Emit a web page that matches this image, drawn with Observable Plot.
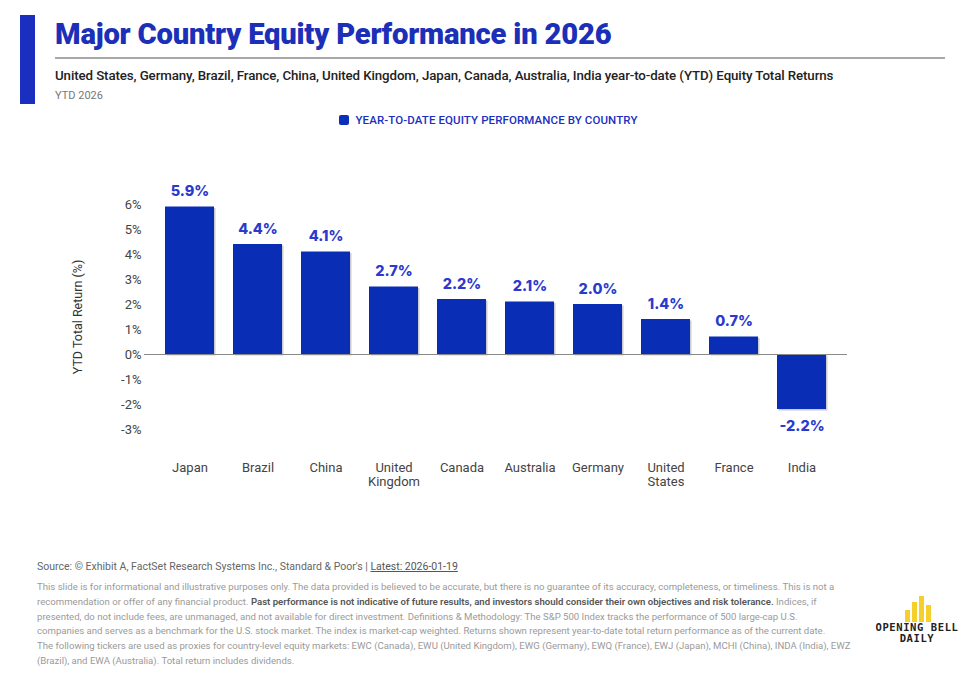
<!DOCTYPE html>
<html><head><meta charset="utf-8">
<script src="https://cdn.jsdelivr.net/npm/d3@7"></script>
<script src="https://cdn.jsdelivr.net/npm/@observablehq/plot@0.6"></script>
<style>
body{margin:0;background:#fff;font-family:Roboto,"Noto Sans",sans-serif;}
#page{position:relative;width:977px;height:689px;overflow:hidden;}
.abs{position:absolute;}
#accent{left:20px;top:15px;width:15px;height:89px;background:#1a2fbf;}
#title{left:55px;top:15px;font-size:29.2px;font-weight:900;color:#1b2fb8;letter-spacing:-0.2px;line-height:38px;white-space:nowrap;}
#rule{left:55px;top:57px;width:890px;height:1.5px;background:#a8a8a8;}
#subtitle{left:55px;top:68px;font-size:13.3px;font-weight:500;color:#222;white-space:nowrap;letter-spacing:-0.1px;}
#ytd{left:55px;top:89px;font-size:11px;color:#777;}
#legend{left:0;width:977px;top:113px;text-align:center;font-size:11.5px;font-weight:500;color:#1b2fc0;letter-spacing:0.1px;}
#legend .sw{display:inline-block;width:10px;height:10px;border-radius:2px;background:#0a2fb8;vertical-align:-1px;margin-right:6px;}
#chart{left:0;top:140px;}
#source{left:37px;top:560px;font-size:10.5px;color:#666;white-space:nowrap;}
#source u{color:#555;}
#disc{left:37px;top:580px;font-size:9.6px;line-height:14.8px;color:#9a9a9a;white-space:nowrap;}
#disc b{color:#555;font-weight:600;}
#logoText{left:862px;top:622px;width:110px;text-align:center;font-family:"DejaVu Sans Mono",monospace;font-weight:bold;font-size:10.5px;line-height:10.5px;color:#222;letter-spacing:0.6px;}
</style></head>
<body><div id="page">
<div id="accent" class="abs"></div>
<div id="title" class="abs">Major Country Equity Performance in 2026</div>
<div id="rule" class="abs"></div>
<div id="subtitle" class="abs">United States, Germany, Brazil, France, China, United Kingdom, Japan, Canada, Australia, India year-to-date (YTD) Equity Total Returns</div>
<div id="ytd" class="abs">YTD 2026</div>
<div id="legend" class="abs"><span class="sw"></span>YEAR-TO-DATE EQUITY PERFORMANCE BY COUNTRY</div>
<div id="chart" class="abs"></div>
<div id="source" class="abs">Source: © Exhibit A, FactSet Research Systems Inc., Standard &amp; Poor's | <u>Latest: 2026-01-19</u></div>
<div id="disc" class="abs">This slide is for informational and illustrative purposes only. The data provided is believed to be accurate, but there is no guarantee of its accuracy, completeness, or timeliness. This is not a<br>recommendation or offer of any financial product. <b>Past performance is not indicative of future results, and investors should consider their own objectives and risk tolerance.</b> Indices, if<br>presented, do not include fees, are unmanaged, and not available for direct investment. Definitions &amp; Methodology: The S&amp;P 500 Index tracks the performance of 500 large-cap U.S.<br>companies and serves as a benchmark for the U.S. stock market. The index is market-cap weighted. Returns shown represent year-to-date total return performance as of the current date.<br>The following tickers are used as proxies for country-level equity markets: EWC (Canada), EWU (United Kingdom), EWG (Germany), EWQ (France), EWJ (Japan), MCHI (China), INDA (India), EWZ<br>(Brazil), and EWA (Australia). Total return includes dividends.</div>
<svg class="abs" style="left:903px;top:595px" width="30" height="27">
  <rect x="2" y="15" width="5" height="12" fill="#f5cf2a"/>
  <rect x="9" y="7" width="5" height="20" fill="#f5cf2a"/>
  <rect x="16" y="1" width="5" height="26" fill="#f5cf2a"/>
  <rect x="23" y="10" width="5" height="17" fill="#f5cf2a"/>
</svg>
<div id="logoText" class="abs">OPENING BELL<br>DAILY</div>
</div>
<script>
const countries = ["Japan","Brazil","China","United Kingdom","Canada","Australia","Germany","United States","France","India"];
const returns = [5.9,4.4,4.1,2.7,2.2,2.1,2.0,1.4,0.7,-2.2];
const yTicks = [-3,-2,-1,0,1,2,3,4,5,6];
const yLabel = ["YTD Total Return (%)"];

const data = countries.map((c,i)=>({country:c, value:returns[i]}));
const pos = data.filter(d => d.value >= 0);
const neg = data.filter(d => d.value < 0);
const barColor = "#0a2db5";
const labelColor = "#2b3acd";
const fmt = d => d.value.toFixed(1) + "%";

const chart = Plot.plot({
  width: 977,
  height: 360,
  marginLeft: 144,
  marginRight: 130,
  marginTop: 64,
  marginBottom: 71,
  style: {fontFamily: "Roboto, 'Noto Sans', sans-serif", background: "transparent"},
  x: {domain: countries, padding: 0.28},
  y: {domain: [-3, 6]},
  marks: [
    Plot.barY(data, {x: "country", y: "value", fill: "#9a9a9a", fillOpacity: 0.5, dx: 1.5, dy: 1.5}),
    Plot.barY(data, {x: "country", y: "value", fill: barColor}),
    Plot.ruleY([0], {stroke: "#8a8a8a", strokeWidth: 1}),
    Plot.text(pos, {x: "country", y: "value", text: fmt, textAnchor: "middle",
      dy: -15.5, fill: labelColor, fontWeight: 800, fontSize: 14.5, fontFamily: "Inter, Roboto, sans-serif"}),
    Plot.text(neg, {x: "country", y: "value", text: fmt, textAnchor: "middle",
      dy: 16.5, fill: labelColor, fontWeight: 800, fontSize: 14.5, fontFamily: "Inter, Roboto, sans-serif"}),
    Plot.axisX({tickSize: 0, tickPadding: 32, fontSize: 13, color: "#444", label: null, lineHeight: 1.1,
      tickFormat: d => d.replace(" ", "\n")}),
    Plot.axisY({ticks: yTicks, tickSize: 0, tickPadding: 3, fontSize: 13, color: "#444",
      tickFormat: d => d + "%", label: null}),
    Plot.text(yLabel, {frameAnchor: "left", textAnchor: "middle", text: d => d, rotate: -90, dx: -67, fontSize: 12.5, fill: "#333"})
  ]
});
document.getElementById("chart").appendChild(chart);
</script>
</body></html>
